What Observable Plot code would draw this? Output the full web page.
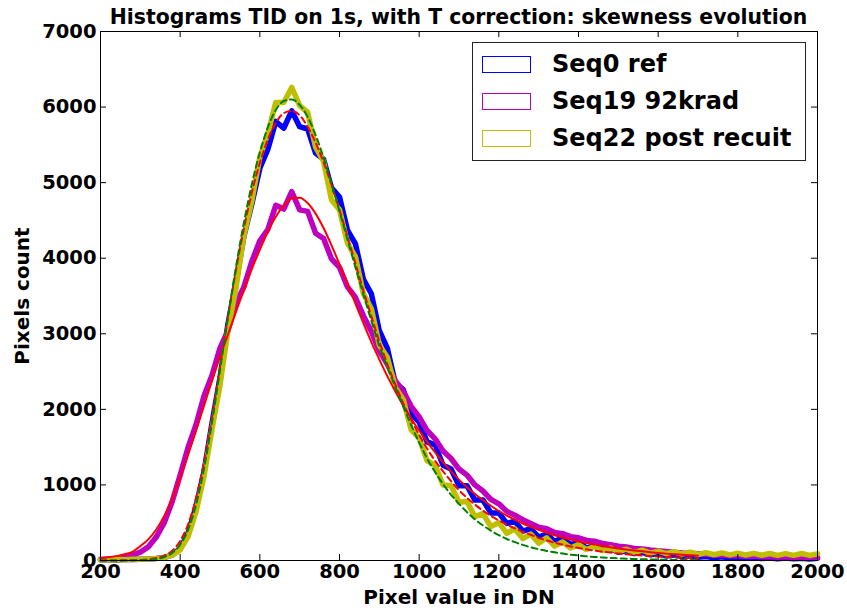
<!DOCTYPE html>
<html>
<head>
<meta charset="utf-8">
<script src="https://cdn.jsdelivr.net/npm/d3@7"></script>
<script src="https://cdn.jsdelivr.net/npm/@observablehq/plot@0.6"></script>
<style>
  html, body { margin: 0; padding: 0; background: #fff; }
  #wrap { position: relative; width: 847px; height: 608px; overflow: hidden;
          font-family: "DejaVu Sans", sans-serif; font-weight: bold; }
  #title { position: absolute; left: 0; width: 917px; top: 7px; text-align: center; font-size: 20.4px; line-height: 20px; color: #000; white-space: nowrap; }
  #legend { position: absolute; left: 472px; top: 42px; width: 332px; height: 117px; border: 1px solid #222; background: #fff; }
  .lrow { position: absolute; left: 0; width: 330px; height: 24px; }
  .lpatch { position: absolute; left: 9px; top: 2px; width: 47px; height: 15px; background: #fff; border: 1.5px solid; }
  .ltext { position: absolute; left: 79px; top: -2px; font-size: 24px; line-height: 24px; color: #000; white-space: nowrap; }
</style>
</head>
<body>
<div id="wrap">
  <div id="chart"></div>
  <div id="title"></div>
  <div id="legend"></div>
</div>
<script>
// ---- data ----
const titleText = "Histograms TID on 1s, with T correction: skewness evolution";
const xLabel = "Pixel value in DN";
const yLabel = "Pixels count";
const seriesNames = ["Seq0 ref", "Seq19 92krad", "Seq22 post recuit"];
const seriesColors = ["#0000ff", "#bf00bf", "#bfbf00"];
const xTicks = [200, 400, 600, 800, 1000, 1200, 1400, 1600, 1800, 2000];
const yTicks = [0, 1000, 2000, 3000, 4000, 5000, 6000, 7000];

// histogram bin centres (DN), 200..2000 every 20
const dnHist = d3.range(200, 2001, 20);
// fit curves evaluated on 200..1700 every 20
const dnFit = d3.range(200, 1701, 20);

const seq0 = [10,12,8,15,12,18,20,28,40,70,160,360,720,1180,1820,2420,3130,3680,4290,4720,
  5190,5440,5810,5720,5950,5740,5710,5390,5310,4930,4810,4370,4190,3720,3530,3040,2810,2350,2260,1940,
  1830,1570,1530,1260,1210,990,990,800,800,630,630,490,520,390,420,310,350,250,300,210,
  240,165,195,140,160,110,130,92,108,75,90,60,74,52,63,42,53,37,48,33,
  42,28,37,26,34,23,32,23,31,21,29];

const seq19 = [15,20,30,45,70,110,180,310,500,780,1130,1500,1800,2180,2450,2810,3040,3400,3620,3960,
  4230,4380,4700,4650,4880,4640,4620,4330,4260,3990,3880,3620,3480,3240,3030,2770,2600,2380,2240,2040,
  1900,1720,1610,1450,1350,1210,1130,1000,920,810,750,650,600,540,490,440,420,370,355,315,
  300,265,255,225,210,190,180,160,152,138,130,118,110,100,95,88,82,74,72,64,
  64,56,58,50,52,44,48,40,45,38,41];

const seq22 = [10,10,12,10,15,15,20,25,40,70,140,320,650,1120,1740,2320,3050,3600,4300,4760,
  5340,5650,6060,6060,6260,6020,5930,5470,5280,4770,4640,4200,4020,3530,3330,2850,2690,2290,2130,1730,
  1620,1320,1260,1000,990,770,780,580,620,450,500,360,420,290,350,230,300,190,245,165,
  210,145,185,130,165,118,150,105,138,98,125,92,118,85,110,80,104,76,100,74,
  97,72,95,70,93,68,91,68,92,67,88];

// fitted curves
const fit19 = [30,42,58,82,115,190,280,410,590,820,1100,1400,1720,2050,2380,2700,2990,3290,3580,3860,
  4110,4350,4550,4700,4790,4800,4730,4590,4400,4170,3920,3660,3400,3140,2890,2660,2440,2240,2050,1880,
  1720,1570,1430,1300,1180,1070,970,880,800,725,655,595,540,490,445,405,368,335,305,277,
  252,230,210,192,175,160,146,133,121,110,100,91,83,76,69,63];

const fit0 = [0,0,1,2,4,8,16,32,65,130,260,480,830,1310,1900,2560,3220,3840,4390,4870,
  5260,5570,5790,5920,5950,5890,5740,5530,5270,4970,4640,4290,3930,3570,3230,2900,2600,2330,2080,1860,
  1660,1480,1320,1180,1050,930,830,740,660,590,530,475,425,380,340,300,265,235,210,185,
  165,148,132,118,105,93,83,74,66,58,52,46,41,36,32,28];

const fit22 = [0,0,0,1,2,4,9,20,45,100,210,410,740,1220,1830,2520,3220,3880,4470,4980,
  5400,5730,5960,6080,6100,6030,5870,5630,5330,4990,4620,4250,3880,3520,3170,2840,2560,2300,2040,1790,
  1560,1350,1170,1010,870,750,640,545,465,395,335,285,243,207,176,150,127,108,92,78,
  66,56,47,40,34,28,24,20,17,14,12,10,8,7,6,5];

// ---- build tables ----
const hist = [seq0, seq19, seq22].map(arr => arr.map((v, i) => ({x: dnHist[i], y: v})));
const toPts = arr => arr.map((v, i) => ({x: dnFit[i], y: v}));

const font = "'DejaVu Sans', sans-serif";

const chart = Plot.plot({
  width: 847,
  height: 608,
  marginLeft: 100,
  marginRight: 30,
  marginTop: 31,
  marginBottom: 48,
  style: {fontFamily: font, fontWeight: "bold", fontSize: "19.5px", color: "#000", background: "#fff", overflow: "visible"},
  x: {domain: [200, 2000]},
  y: {domain: [0, 7000]},
  marks: [
    Plot.line(hist[0], {x: "x", y: "y", stroke: seriesColors[0], strokeWidth: 5.5, strokeLinejoin: "round"}),
    Plot.line(hist[1], {x: "x", y: "y", stroke: seriesColors[1], strokeWidth: 5.5, strokeLinejoin: "round"}),
    Plot.line(hist[2], {x: "x", y: "y", stroke: seriesColors[2], strokeWidth: 5.5, strokeLinejoin: "round"}),
    Plot.line(toPts(fit19), {x: "x", y: "y", stroke: "#ff0000", strokeWidth: 2, curve: "monotone-x"}),
    Plot.line(toPts(fit0), {x: "x", y: "y", stroke: "#ff0000", strokeWidth: 2, strokeDasharray: "6 4", curve: "monotone-x"}),
    Plot.line(toPts(fit22), {x: "x", y: "y", stroke: "#008000", strokeWidth: 2, strokeDasharray: "6 4", curve: "monotone-x"}),
    Plot.frame({stroke: "#000", strokeWidth: 1}),
    // inward ticks on all four sides
    Plot.tickX(xTicks, {x: d => d, insetTop: 523, stroke: "#000"}),
    Plot.tickX(xTicks, {x: d => d, insetBottom: 523, stroke: "#000"}),
    Plot.tickY(yTicks, {y: d => d, insetRight: 711, stroke: "#000"}),
    Plot.tickY(yTicks, {y: d => d, insetLeft: 711, stroke: "#000"}),
    Plot.axisX(xTicks, {tickSize: 0, tickPadding: 4, label: null, tickFormat: d3.format("d"), fontSize: 19.5, fontWeight: "bold"}),
    Plot.axisY(yTicks, {tickSize: 0, tickPadding: 4, label: null, tickFormat: d3.format("d"), fontSize: 19.5, fontWeight: "bold"}),
    Plot.text([xLabel], {frameAnchor: "bottom", dy: 37, lineAnchor: "middle", text: d => d, fontSize: 20, fontWeight: "bold", fill: "#000"}),
    Plot.text([yLabel], {frameAnchor: "left", dx: -78, rotate: -90, textAnchor: "middle", text: d => d, fontSize: 20, fontWeight: "bold", fill: "#000"})
  ]
});
document.getElementById("chart").appendChild(chart);

// title
document.getElementById("title").textContent = titleText;

// legend
const leg = document.getElementById("legend");
const rowTops = [11, 48, 85];
seriesNames.forEach((name, i) => {
  const row = document.createElement("div");
  row.className = "lrow";
  row.style.top = rowTops[i] + "px";
  const p = document.createElement("div");
  p.className = "lpatch";
  p.style.borderColor = seriesColors[i];
  const t = document.createElement("div");
  t.className = "ltext";
  t.textContent = name;
  row.appendChild(p);
  row.appendChild(t);
  leg.appendChild(row);
});
</script>
</body>
</html>
